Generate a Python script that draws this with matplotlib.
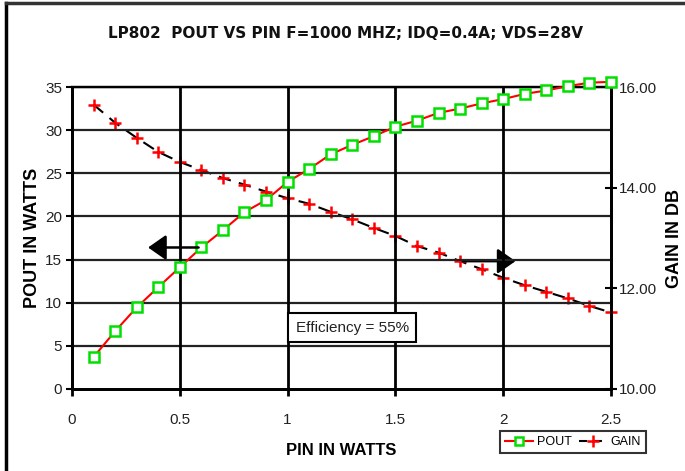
import matplotlib
matplotlib.use("Agg")
import matplotlib.pyplot as plt
from matplotlib.lines import Line2D

plt.rcParams['font.family'] = ['Liberation Sans Narrow', 'Liberation Sans', 'DejaVu Sans']

pin = [0.1, 0.2, 0.3, 0.4, 0.5, 0.6, 0.7, 0.8, 0.9, 1.0, 1.1, 1.2, 1.3,
       1.4, 1.5, 1.6, 1.7, 1.8, 1.9, 2.0, 2.1, 2.2, 2.3, 2.4, 2.5]
pout = [3.7, 6.7, 9.45, 11.8, 14.1, 16.4, 18.4, 20.5, 21.9, 24.0, 25.5, 27.2, 28.3,
        29.3, 30.4, 31.1, 32.0, 32.5, 33.1, 33.6, 34.2, 34.6, 35.1, 35.5, 35.6]
gain = [15.65, 15.29, 14.99, 14.71, 14.51, 14.35, 14.19, 14.06, 13.92, 13.79, 13.68, 13.52, 13.37,
        13.20, 13.04, 12.84, 12.71, 12.54, 12.38, 12.21, 12.06, 11.93, 11.80, 11.65, 11.52]

x_ticks = [0, 0.5, 1, 1.5, 2, 2.5]
x_ticklabels = ['0', '0.5', '1', '1.5', '2', '2.5']
y_ticks = [0, 5, 10, 15, 20, 25, 30, 35]
y2_ticks = [10, 12, 14, 16]
y2_ticklabels = ['10.00', '12.00', '14.00', '16.00']

fig = plt.figure(figsize=(6.85, 4.71), dpi=100)
ax = fig.add_axes([72/685, 1-389/471, (611-72)/685, (389-87)/471])
ax2 = ax.twinx()

ax.set_xlim(0, 2.5)
ax.set_ylim(0, 35)
ax2.set_ylim(10, 16)

# grid
for yv in y_ticks[1:]:
    ax.axhline(yv, color='#222222', lw=1.6, zorder=1)
for xv in x_ticks[1:-1]:
    ax.axvline(xv, color='black', lw=2.0, zorder=1)

for sp in ['left', 'bottom', 'right']:
    ax.spines[sp].set_linewidth(2.0)
    ax2.spines[sp].set_linewidth(2.0)
ax.spines['top'].set_linewidth(1.6)
ax2.spines['top'].set_linewidth(1.6)

ax.set_xticks(x_ticks)
ax.set_xticklabels(x_ticklabels)
ax.set_yticks(y_ticks)
ax2.set_yticks(y2_ticks)
ax2.set_yticklabels(y2_ticklabels)

ax.tick_params(axis='x', direction='out', length=5, width=2, labelsize=11, pad=12, colors='black', labelcolor='#222222')
ax.tick_params(axis='y', direction='out', length=4, width=1.5, labelsize=11, pad=3, labelcolor='#222222')
ax2.tick_params(axis='y', direction='inout', length=8, width=1.5, labelsize=11, pad=2, labelcolor='#222222')

# series
ax2.plot(pin, gain, color='black', lw=1.5, dashes=(6, 4), marker='+', markersize=8,
         markeredgecolor='red', markeredgewidth=1.8, zorder=3, clip_on=False, label='GAIN')
ax.plot(pin, pout, color='red', lw=1.5, marker='s', markersize=6.5, markerfacecolor='white',
        markeredgecolor='#00e000', markeredgewidth=1.8, zorder=4, clip_on=False, label='POUT')
ax.set_zorder(ax2.get_zorder() + 1)
ax.patch.set_visible(False)
ax2.patch.set_visible(True)

# arrows
astyle = '-|>,head_length=0.5,head_width=0.35'
ax.annotate('', xy=(0.34, 16.4), xytext=(0.6, 16.4),
            arrowprops=dict(arrowstyle=astyle, color='black', lw=1.8, mutation_scale=22), zorder=5)
ax2.annotate('', xy=(2.07, 12.54), xytext=(1.8, 12.54),
             arrowprops=dict(arrowstyle=astyle, color='black', lw=1.8, mutation_scale=22), zorder=5)

ax.text(1.3, 7.1, 'Efficiency = 55%', ha='center', va='center', fontsize=11, color='#222222',
        bbox=dict(boxstyle='square,pad=0.5', facecolor='white', edgecolor='black', lw=1.5), zorder=6)

ax.set_xlabel('PIN IN WATTS', fontsize=12, fontweight='bold', labelpad=12)
ax.set_ylabel('POUT IN WATTS', fontsize=13, fontweight='bold', labelpad=3)
ax2.set_ylabel('GAIN IN DB', fontsize=13, fontweight='bold', labelpad=6)

fig.text(0.505, 1-33/471, 'LP802  POUT VS PIN F=1000 MHZ; IDQ=0.4A; VDS=28V',
         ha='center', va='center', fontsize=11, fontweight='bold', color='#111111',
         family=['DejaVu Sans'])

handles = [Line2D([], [], color='red', lw=1.5, marker='s', markersize=6, markerfacecolor='white',
                  markeredgecolor='#00e000', markeredgewidth=1.8),
           Line2D([], [], color='black', lw=1.5, dashes=(4, 3), marker='+', markersize=8,
                  markeredgecolor='red', markeredgewidth=1.8)]
leg = fig.legend(handles, ['POUT', 'GAIN'], loc='center', bbox_to_anchor=(573/685, 1-442/471),
                 ncol=2, frameon=True, fancybox=False, edgecolor='black', fontsize=9,
                 handlelength=2.2, handletextpad=0.3, columnspacing=0.6, borderpad=0.4)
leg.get_frame().set_linewidth(1.5)

# figure border
fig.add_artist(Line2D([6/685, 6/685], [0, 1-3/471], color='black', lw=2.5, transform=fig.transFigure))
fig.add_artist(Line2D([6/685, 1], [1-3/471, 1-3/471], color='#333333', lw=2.5, transform=fig.transFigure))

fig.savefig('out.png', dpi=100)
